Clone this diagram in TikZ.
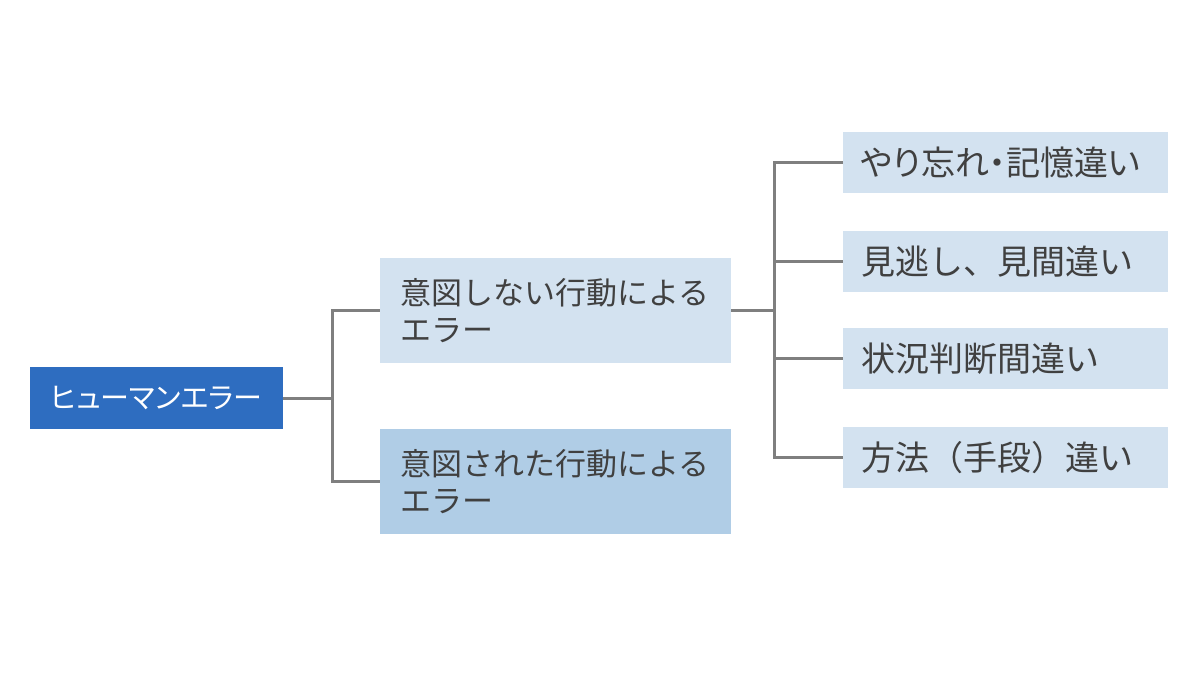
\documentclass[tikz,border=0pt]{standalone}
\usepackage{fontspec}
\newfontfamily\jp{Noto Sans CJK JP}
\newfontfamily\jpp[RawFeature=+palt]{Noto Sans CJK JP}
\definecolor{rootblue}{HTML}{2E6DC0}
\definecolor{lightbox}{HTML}{D3E2F0}
\definecolor{midbox}{HTML}{B0CDE6}
\definecolor{linegrey}{HTML}{7F7F7F}
\definecolor{txt}{HTML}{404040}
\tikzset{
  rootbox/.style={fill=rootblue, text=white, minimum width=253pt, minimum height=62pt, inner sep=0pt,
    font=\jpp\fontsize{29}{34}\selectfont},
  midnode/.style={minimum width=351pt, minimum height=105pt, text width=311pt, align=left, inner sep=0pt,
    text=txt, font=\jp\fontsize{31}{37}\selectfont},
  leafbox/.style={fill=lightbox, minimum width=325pt, minimum height=61pt, text width=289pt, align=left, inner sep=0pt,
    text=txt, font=\jp\fontsize{34}{38}\selectfont},
  conn/.style={draw=linegrey, line width=3pt}
}
\begin{document}
\begin{tikzpicture}[x=1pt,y=-1pt]
\useasboundingbox (0,0) rectangle (1200,675);
\fill[white] (0,0) rectangle (1200,675);
\node[rootbox] (root) at (156.5,398) {ヒューマンエラー};
\node[midnode, fill=lightbox] (A) at (555.5,310.5) {意図しない行動による\\エラー};
\node[midnode, fill=midbox] (B) at (555.5,481.5) {意図された行動による\\エラー};
\node[leafbox, font=\jpp\fontsize{34}{38}\selectfont] (L1) at (1005.5,162.5) {やり忘れ・記憶違い};
\node[leafbox] (L2) at (1005.5,261.5) {見逃し、見間違い};
\node[leafbox] (L3) at (1005.5,358.5) {状況判断間違い};
\node[leafbox] (L4) at (1005.5,457.5) {方法（手段）違い};
\coordinate (j1) at (332,398);
\coordinate (j2) at (774,310.5);
\draw[conn] (root.east) -- (j1);
\draw[conn] (A.west) -| (j1) |- (B.west);
\draw[conn] (A.east) -- (j2);
\draw[conn] (L1.west) -| (j2) |- (L4.west);
\draw[conn] (L2.west) -- (L2.west -| j2);
\draw[conn] (L3.west) -- (L3.west -| j2);
\end{tikzpicture}
\end{document}
